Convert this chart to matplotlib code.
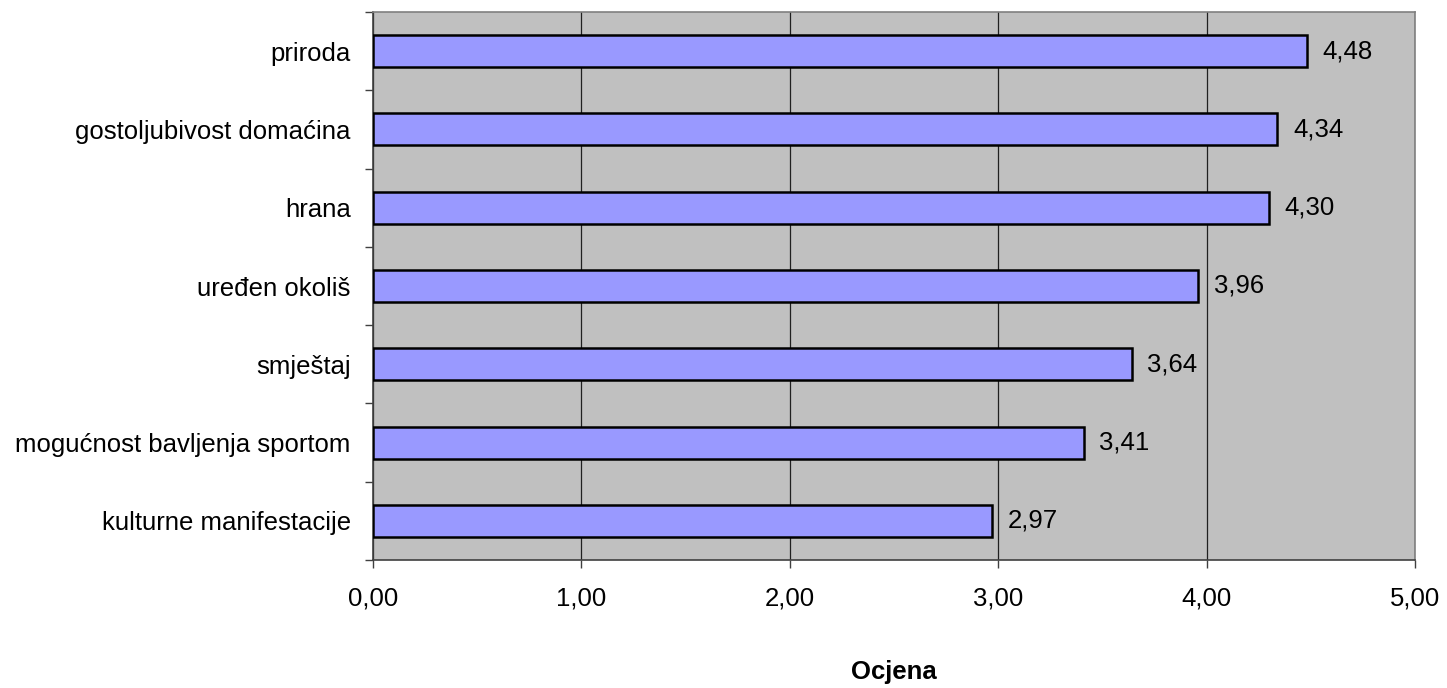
import numpy as np
import matplotlib.pyplot as plt
from matplotlib.ticker import FixedLocator, FuncFormatter

plt.rcParams['font.family'] = ['Liberation Sans', 'DejaVu Sans']

# podaci (odozdo prema gore)
kategorije = ["kulturne manifestacije", "mogućnost bavljenja sportom", "smještaj",
              "uređen okoliš", "hrana", "gostoljubivost domaćina", "priroda"]
ocjene = [2.97, 3.41, 3.64, 3.96, 4.30, 4.34, 4.48]

FS = 18.5

fig = plt.figure(figsize=(14.47, 6.88), dpi=100)
ax = fig.add_axes([373 / 1447, 128 / 688, 1042 / 1447, 548 / 688])
ax.set_facecolor('#C0C0C0')

y = np.arange(len(kategorije))
ax.barh(y, ocjene, height=0.41, color='#9999FF', edgecolor='black', linewidth=1.8, zorder=3)

for yi, v in zip(y, ocjene):
    ax.text(v + 0.075, yi, f"{v:.2f}".replace('.', ','), va='center', ha='left', fontsize=FS, zorder=4)

ax.set_xlim(0, 5)
ax.set_ylim(-0.5, len(kategorije) - 0.5)
ax.set_xticks(np.arange(0, 5.01, 1))
ax.xaxis.set_major_formatter(FuncFormatter(lambda v, p: f"{v:.2f}".replace('.', ',')))
ax.set_yticks(y)
ax.set_yticklabels(kategorije)
ax.yaxis.set_minor_locator(FixedLocator(np.arange(-0.5, len(kategorije), 1)))
ax.tick_params(axis='y', which='major', length=0, pad=16, labelsize=FS)
ax.tick_params(axis='y', which='minor', length=6, width=1, color='#404040')
ax.tick_params(axis='x', length=6, width=1, color='#404040', pad=13, labelsize=FS)

ax.grid(axis='x', color='#202020', linewidth=0.9, zorder=1)
ax.set_axisbelow(True)
for s in ['top', 'right']:
    ax.spines[s].set_color('#808080')
    ax.spines[s].set_linewidth(1.2)
for s in ['left', 'bottom']:
    ax.spines[s].set_color('#404040')
    ax.spines[s].set_linewidth(1.2)

ax.set_xlabel("Ocjena", fontsize=FS, fontweight='bold', labelpad=36)

fig.savefig("out.png", dpi=100)
